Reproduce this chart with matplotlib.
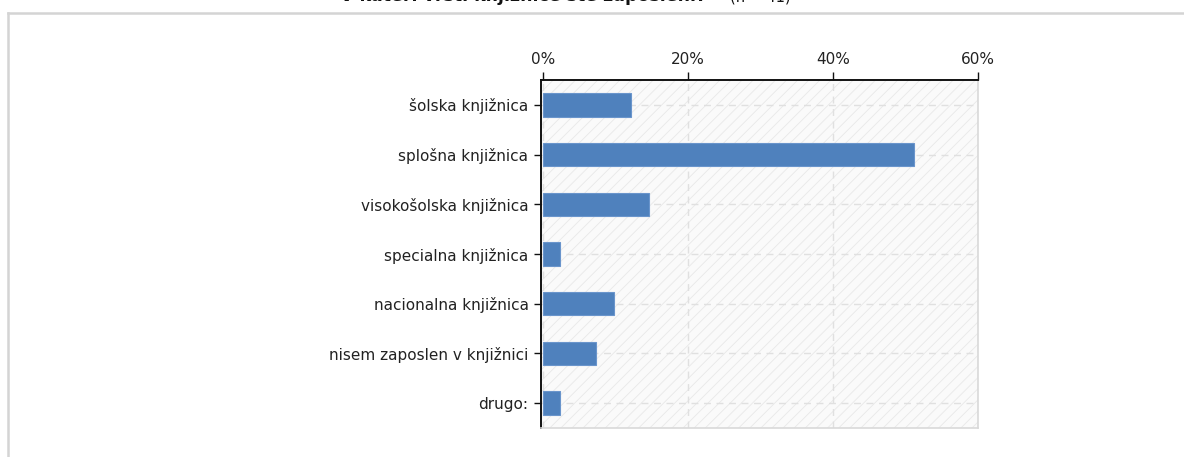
import matplotlib
matplotlib.use('Agg')
import matplotlib.pyplot as plt
from matplotlib.lines import Line2D
from matplotlib.patches import Rectangle
from matplotlib.ticker import FuncFormatter

categories = ['šolska knjižnica', 'splošna knjižnica', 'visokošolska knjižnica',
              'specialna knjižnica', 'nacionalna knjižnica',
              'nisem zaposlen v knjižnici', 'drugo:']
percent = [12.2, 51.2, 14.6, 2.4, 9.8, 7.3, 2.4]
xticks = [0, 20, 40, 60]
title = 'V kateri vrsti knjižnice ste zaposleni?'
subtitle = '(n = 41)'

plt.rcParams['font.family'] = ['DejaVu Sans']
plt.rcParams['hatch.linewidth'] = 0.6
plt.rcParams['hatch.color'] = '#e8e8e8'

fig = plt.figure(figsize=(11.84, 4.57), dpi=100)
ax = fig.add_axes([541 / 1184, 1 - 428 / 457, (978 - 541) / 1184, (428 - 80) / 457])

# hatched plot background
ax.add_patch(Rectangle((0, 0), 1, 1, transform=ax.transAxes, facecolor='#fafafa',
                       edgecolor='#e8e8e8', hatch='///', linewidth=0, zorder=0))

y = list(range(len(categories)))
ax.barh(y, percent, height=0.47, color='#4f81bd', edgecolor='#6a95cc',
        linewidth=0.8, zorder=3)

ax.set_xlim(-0.25, 60)
ax.set_ylim(len(categories) - 0.5, -0.5)
ax.set_yticks(y)
ax.set_yticklabels(categories)
ax.set_xticks(xticks)
ax.xaxis.set_major_formatter(FuncFormatter(lambda v, p: '%d%%' % v))
ax.xaxis.tick_top()

ax.grid(True, color='#e0e0e0', linestyle=(0, (5, 4)), linewidth=1, zorder=1)
ax.set_axisbelow(True)

for s in ['top', 'left']:
    ax.spines[s].set_color('#111111')
    ax.spines[s].set_linewidth(1.4)
for s in ['right', 'bottom']:
    ax.spines[s].set_color('#d9d9d9')
    ax.spines[s].set_linewidth(1.2)

ax.tick_params(axis='x', direction='out', length=6, width=1, color='#111111',
               labelsize=11, labelcolor='#222222', pad=3)
ax.tick_params(axis='y', direction='out', length=5, width=1, color='#111111',
               labelsize=11, labelcolor='#222222', pad=4)

# outer frame (top and left borders)
fig.add_artist(Line2D([7.5 / 1184, 1], [1 - 12.5 / 457, 1 - 12.5 / 457],
                      transform=fig.transFigure, color='#d4d4d4', linewidth=1.8))
fig.add_artist(Line2D([7.5 / 1184, 7.5 / 1184], [0, 1 - 12.5 / 457],
                      transform=fig.transFigure, color='#d4d4d4', linewidth=1.8))

# title, cut off at the top edge
fig.text(340 / 1184, 1 - 1 / 457, title, fontsize=12.5, fontweight='bold',
         va='baseline', ha='left', color='#111111')
fig.text(730 / 1184, 1 - 1 / 457, subtitle, fontsize=10.5,
         va='baseline', ha='left', color='#111111')

fig.savefig('out.png', dpi=100)
